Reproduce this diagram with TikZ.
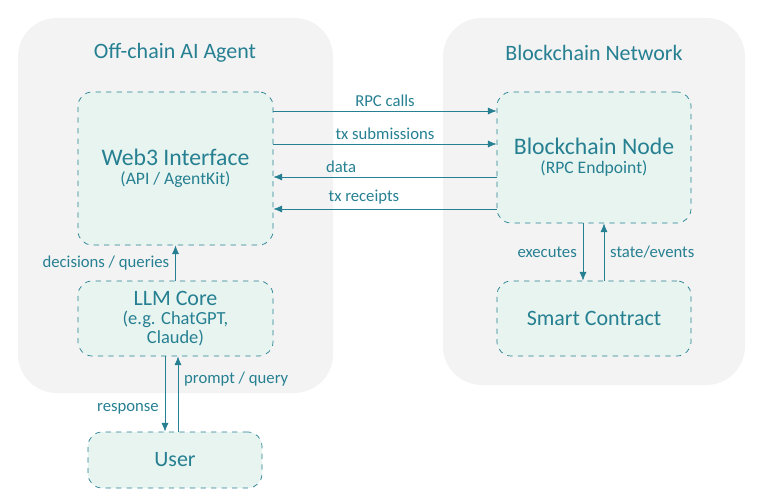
\documentclass[tikz,border=0pt]{standalone}
\usepackage{fontspec}
\setmainfont{Carlito}
\usetikzlibrary{arrows.meta, positioning}
\definecolor{agentTeal}{RGB}{38,128,146}
\definecolor{boxFill}{RGB}{232,244,240}
\definecolor{panelFill}{RGB}{243,243,243}
\tikzset{
    panel/.style={fill=panelFill, draw=none, rounded corners=22pt},
    comp/.style={draw=agentTeal, dashed, fill=boxFill, rounded corners=8pt, text=agentTeal, align=center},
    link/.style={draw=agentTeal, -{Latex[length=5pt,width=4pt]}},
    lbl/.style={text=agentTeal, font=\fontsize{9.5}{11}\selectfont}
}
\begin{document}
\begin{tikzpicture}[x=0.02cm, y=-0.02cm]
    \useasboundingbox (0,0) rectangle (768,500);

    % panels
    \fill[panel] (18,18) rectangle (333,393);
    \fill[panel] (443,18) rectangle (745,385);
    \node[text=agentTeal, font=\fontsize{12.5}{14}\selectfont] (agentTitle) at (175,53) {Off-chain AI Agent};
    \node[text=agentTeal, font=\fontsize{12.5}{14}\selectfont] (chainTitle) at (594,53) {Blockchain Network};

    % components
    \node[comp, minimum width=195*0.02cm, minimum height=153*0.02cm] (web3) at (175.5,168.5)
        {{\fontsize{13.5}{15}\selectfont Web3 Interface}\\[-1pt]{\fontsize{10}{12}\selectfont (API / AgentKit)}};
    \node[comp, minimum width=195*0.02cm, minimum height=75*0.02cm, font=\fontsize{12.5}{14}\selectfont] (llm) at (175.5,318.5)
        {LLM Core\\[-3pt]{\fontsize{10.5}{12}\selectfont (e.g. ChatGPT,}\\[-3pt]{\fontsize{10.5}{12}\selectfont Claude)}};
    \node[comp, minimum width=174*0.02cm, minimum height=56*0.02cm, font=\fontsize{12.5}{14}\selectfont] (user) at (175,460) {User};
    \node[comp, minimum width=194*0.02cm, minimum height=131*0.02cm] (node) at (594,157.5)
        {{\fontsize{13.5}{15}\selectfont Blockchain Node}\\[-1pt]{\fontsize{10}{12}\selectfont (RPC Endpoint)}};
    \node[comp, minimum width=194*0.02cm, minimum height=75*0.02cm, font=\fontsize{12.5}{14}\selectfont] (contract) at (594,318.5) {Smart Contract};

    % connectors between panels
    \draw[link] (web3.east |- 0,111) -- node[lbl, above=-1pt] {RPC calls} (node.west |- 0,111);
    \draw[link] (web3.east |- 0,144) -- node[lbl, above=-1pt] {tx submissions} (node.west |- 0,144);
    \draw[link] (node.west |- 0,177) -- node[lbl, above=-1pt, xshift=-25pt] {data} (web3.east |- 0,177);
    \draw[link] (node.west |- 0,209) -- node[lbl, above=-1pt, xshift=-12pt] {tx receipts} (web3.east |- 0,209);

    % inside the chain
    \draw[link] (node.south -| 583,0) -- node[lbl, left] {executes} (contract.north -| 583,0);
    \draw[link] (contract.north -| 604,0) -- node[lbl, right] {state/events} (node.south -| 604,0);

    % inside the agent
    \draw[link] (llm) -- node[lbl, left] {decisions / queries} (web3);
    \draw[link] (llm.south -| 165,0) -- node[lbl, left, pos=0.7] {response} (user.north -| 165,0);
    \draw[link] (user.north -| 178,0) -- node[lbl, right, pos=0.7] {prompt / query} (llm.south -| 178,0);
\end{tikzpicture}
\end{document}
